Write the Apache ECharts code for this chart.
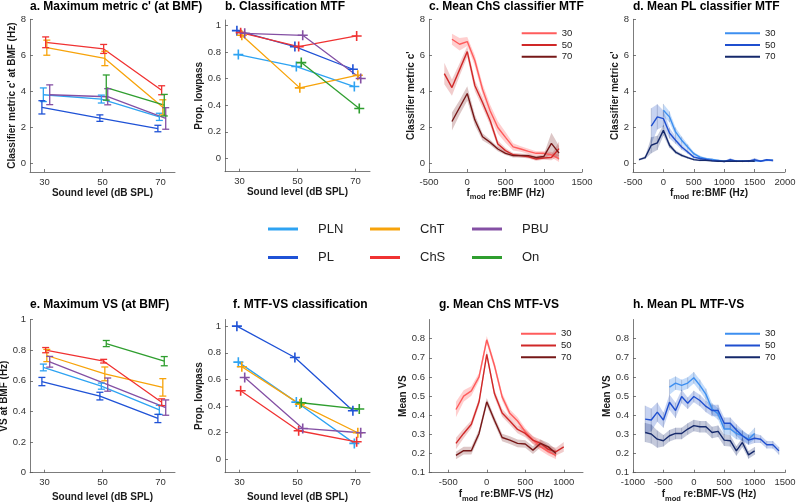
<!DOCTYPE html>
<html>
<head>
<meta charset="utf-8">
<script src="https://cdn.jsdelivr.net/npm/echarts@6/dist/echarts.min.js"></script>
<style>
html, body { margin: 0; padding: 0; background: #fff; }
#main { width: 796px; height: 504px; }
</style>
</head>
<body>
<div id="main"></div>
<script>
// groups and sound levels
var groups = ['PLN', 'PL', 'ChT', 'ChS', 'PBU', 'On'];
var levels = [30, 50, 70];
var xJitter = [-0.4, -0.9, 0.8, 0.4, 1.8, 1.3];   // x offset of each group (dB)

// a. max metric c' (order = groups)
var cmaxMean30 = [3.8, 3.1, 6.42, 6.72, 3.8, null];
var cmaxErr30  = [0.38, 0.37, 0.42, 0.3, 0.55, null];
var cmaxMean50 = [3.56, 2.5, 5.82, 6.35, 3.69, 4.2];
var cmaxErr50  = [0.22, 0.18, 0.4, 0.25, 0.45, 0.7];
var cmaxMean70 = [2.57, 1.92, 3.1, 4.05, 2.48, 3.22];
var cmaxErr70  = [0.2, 0.18, 0.42, 0.25, 0.6, 0.6];

// b. classification MTF, prop. lowpass
var mtfLow30 = [0.78, 0.96, 0.925, 0.945, 0.94, null];
var mtfLow50 = [0.69, 0.84, 0.53, 0.84, 0.925, 0.72];
var mtfLow70 = [0.54, 0.67, 0.625, 0.92, 0.6, 0.375];

// e. max VS
var vsMean30 = [0.687, 0.595, 0.765, 0.80, 0.724, null];
var vsErr30  = [0.022, 0.027, 0.04, 0.017, 0.035, null];
var vsMean50 = [0.565, 0.5, 0.645, 0.728, 0.575, 0.843];
var vsErr50  = [0.02, 0.025, 0.045, 0.012, 0.043, 0.02];
var vsMean70 = [0.41, 0.354, 0.557, 0.46, 0.425, 0.728];
var vsErr70  = [0.03, 0.027, 0.057, 0.022, 0.05, 0.03];

// f. MTF-VS classification, prop. lowpass
var vsLow30 = [0.73, 1.0, 0.695, 0.515, 0.615, null];
var vsLow50 = [0.43, 0.765, 0.415, 0.215, 0.232, 0.425];
var vsLow70 = [0.12, 0.365, 0.2, 0.132, 0.2, 0.378];

// c. mean ChS classifier MTF
var cFreq30 = [-200, -100, 0, 100, 200, 300, 400, 500, 600, 700, 800, 900, 1000, 1100, 1200];
var cMean30 = [6.89, 6.61, 6.76, 5.69, 4.1, 2.9, 1.98, 1.43, 0.9, 0.78, 0.65, 0.54, 0.54, 0.46, 0.25];
var cErr30  = [0.3, 0.35, 0.25, 0.3, 0.3, 0.35, 0.35, 0.3, 0.2, 0.15, 0.15, 0.12, 0.12, 0.15, 0.2];
var cFreq50 = [-300, -200, -100, 0, 100, 200, 300, 400, 500, 600, 700, 800, 900, 1000, 1100, 1200];
var cMean50 = [4.98, 4.2, 5.2, 6.2, 4.3, 3.37, 2.35, 1.06, 0.69, 0.46, 0.41, 0.35, 0.22, 0.28, 0.31, 0.8];
var cErr50  = [0.6, 0.45, 0.35, 0.3, 0.3, 0.3, 0.25, 0.2, 0.15, 0.1, 0.1, 0.1, 0.1, 0.1, 0.15, 0.4];
var cFreq70 = [-200, -100, 0, 100, 200, 300, 400, 500, 600, 700, 800, 900, 1000, 1100, 1200];
var cMean70 = [2.31, 3.09, 3.87, 2.39, 1.46, 1.15, 0.78, 0.54, 0.41, 0.41, 0.41, 0.31, 0.36, 1.09, 0.55];
var cErr70  = [0.5, 0.4, 0.4, 0.3, 0.2, 0.15, 0.12, 0.1, 0.1, 0.1, 0.1, 0.1, 0.12, 0.6, 0.4];

// d. mean PL classifier MTF
var dFreq30 = [0, 100, 200, 300, 400, 500, 600, 700, 800, 900, 1000, 1100, 1200, 1300, 1400, 1500, 1600, 1700, 1800];
var dMean30 = [2.94, 2.57, 1.73, 1.27, 0.89, 0.52, 0.33, 0.24, 0.2, 0.15, 0.1, 0.15, 0.12, 0.1, 0.1, 0.12, 0.12, 0.15, 0.15];
var dErr30  = [0.35, 0.3, 0.25, 0.2, 0.15, 0.1, 0.08, 0.06, 0.05, 0.05, 0.05, 0.05, 0.05, 0.05, 0.05, 0.05, 0.05, 0.05, 0.05];
var dFreq50 = [-200, -100, 0, 100, 200, 300, 400, 500, 600, 700, 800, 900, 1000, 1100, 1200, 1300, 1400, 1500, 1600, 1700, 1800];
var dMean50 = [2.05, 2.57, 2.47, 1.67, 1.27, 0.89, 0.61, 0.33, 0.25, 0.2, 0.15, 0.12, 0.08, 0.18, 0.1, 0.1, 0.1, 0.18, 0.1, 0.18, 0.14];
var dErr50  = [1.0, 0.7, 0.45, 0.3, 0.2, 0.15, 0.1, 0.08, 0.06, 0.05, 0.05, 0.05, 0.05, 0.08, 0.05, 0.05, 0.05, 0.1, 0.05, 0.05, 0.05];
var dFreq70 = [-400, -300, -200, -100, 0, 100, 200, 300, 400, 500, 600, 700, 800, 900, 1000, 1100, 1200, 1300, 1400, 1500];
var dMean70 = [0.19, 0.3, 0.99, 1.12, 1.82, 0.99, 0.61, 0.43, 0.3, 0.19, 0.15, 0.15, 0.12, 0.1, 0.1, 0.1, 0.1, 0.1, 0.12, 0.1];
var dErr70  = [0.05, 0.08, 0.45, 0.4, 0.3, 0.15, 0.1, 0.08, 0.06, 0.05, 0.05, 0.05, 0.05, 0.05, 0.05, 0.05, 0.05, 0.05, 0.05, 0.05];

// g. mean ChS MTF-VS
var gFreq30 = [-400, -300, -200, -100, 0, 100, 200, 300, 400, 500, 600, 700, 800, 900];
var gMean30 = [0.43, 0.50, 0.527, 0.6, 0.794, 0.66, 0.496, 0.41, 0.37, 0.314, 0.27, 0.235, 0.21, 0.19];
var gErr30  = [0.04, 0.03, 0.025, 0.02, 0.02, 0.02, 0.02, 0.02, 0.02, 0.02, 0.02, 0.02, 0.02, 0.02];
var gFreq50 = [-400, -300, -200, -100, 0, 100, 200, 300, 400, 500, 600, 700, 800, 900, 1000];
var gMean50 = [0.253, 0.305, 0.353, 0.47, 0.718, 0.513, 0.412, 0.37, 0.326, 0.305, 0.27, 0.253, 0.222, 0.21, 0.235];
var gErr50  = [0.03, 0.025, 0.02, 0.02, 0.02, 0.02, 0.02, 0.02, 0.02, 0.02, 0.02, 0.02, 0.02, 0.02, 0.025];
var gFreq70 = [-400, -300, -200, -100, 0, 100, 200, 300, 400, 500, 600, 700, 800, 900];
var gMean70 = [0.19, 0.215, 0.215, 0.305, 0.47, 0.374, 0.284, 0.27, 0.253, 0.25, 0.218, 0.253, 0.235, 0.2];
var gErr70  = [0.02, 0.02, 0.02, 0.02, 0.02, 0.02, 0.02, 0.02, 0.02, 0.02, 0.02, 0.02, 0.02, 0.02];

// h. mean PL MTF-VS
var hFreq30 = [-400, -300, -200, -100, 0, 100, 200, 300, 400, 500, 600, 700, 800, 900, 1000];
var hMean30 = [0.547, 0.568, 0.556, 0.568, 0.596, 0.556, 0.509, 0.433, 0.407, 0.328, 0.328, 0.305, 0.293, 0.275, 0.305];
var hErr30  = [0.04, 0.035, 0.03, 0.03, 0.03, 0.03, 0.03, 0.03, 0.03, 0.03, 0.03, 0.03, 0.025, 0.025, 0.03];
var hFreq50 = [-800, -700, -600, -500, -400, -300, -200, -100, 0, 100, 200, 300, 400, 500, 600, 700, 800, 900, 1000, 1100, 1200, 1300, 1400];
var hMean50 = [0.38, 0.375, 0.416, 0.375, 0.468, 0.425, 0.498, 0.463, 0.498, 0.477, 0.446, 0.425, 0.425, 0.358, 0.358, 0.323, 0.293, 0.27, 0.28, 0.275, 0.246, 0.246, 0.214];
var hErr50  = [0.07, 0.06, 0.05, 0.04, 0.04, 0.04, 0.035, 0.03, 0.03, 0.03, 0.03, 0.03, 0.03, 0.03, 0.03, 0.03, 0.03, 0.025, 0.025, 0.02, 0.02, 0.02, 0.02];
var hFreq70 = [-800, -700, -600, -500, -400, -300, -200, -100, 0, 100, 200, 300, 400, 500, 600, 700, 800, 900, 1000];
var hMean70 = [0.31, 0.302, 0.275, 0.267, 0.293, 0.305, 0.305, 0.328, 0.346, 0.34, 0.34, 0.31, 0.316, 0.27, 0.267, 0.214, 0.258, 0.193, 0.214];
var hErr70  = [0.05, 0.05, 0.045, 0.03, 0.03, 0.03, 0.03, 0.03, 0.03, 0.03, 0.03, 0.03, 0.03, 0.03, 0.03, 0.025, 0.025, 0.02, 0.02];

// tick labels
var levelTicks = [30, 50, 70];
var cTicks = [0, 2, 4, 6, 8];
var propTicks = [0, 0.2, 0.4, 0.6, 0.8, 1];
var cFreqTicks = [-500, 0, 500, 1000, 1500];
var dFreqTicks = [-500, 0, 500, 1000, 1500, 2000];
var gFreqTicks = [-500, 0, 500, 1000];
var hFreqTicks = [-1000, -500, 0, 500, 1000, 1500];
var meanVsTicks = [0.1, 0.2, 0.3, 0.4, 0.5, 0.6, 0.7, 0.8];

var groupColors = ['#2ea3f2', '#1f52d6', '#f7a30a', '#f03232', '#8450a4', '#2f9e2f'];
var redLines = ['#ff5c5c', '#d02828', '#761818'];
var redBands = ['rgba(255,95,95,0.30)', 'rgba(200,50,50,0.25)', 'rgba(120,30,30,0.25)'];
var blueLines = ['#3d8ff0', '#1f4fcf', '#15296b'];
var blueBands = ['rgba(60,140,240,0.30)', 'rgba(30,80,200,0.25)', 'rgba(20,40,110,0.25)'];

var font = 'Liberation Sans, Arial, sans-serif';
var axisGrey = '#5a5a5a';

var grids = [
    { left: 30,  top: 19.3, width: 145, height: 152.7 },
    { left: 225, top: 20,   width: 145, height: 151.7 },
    { left: 429, top: 19.3, width: 153, height: 152.7 },
    { left: 633, top: 19.3, width: 152, height: 152.7 },
    { left: 30,  top: 319.5, width: 145, height: 153.2 },
    { left: 225, top: 319.5, width: 145, height: 153.2 },
    { left: 429, top: 319.5, width: 154, height: 153.2 },
    { left: 633, top: 319.5, width: 152, height: 153.2 }
];
grids.forEach(function (g) { g.outerBoundsMode = 'none'; g.containLabel = false; });

var nameRich = {
    t: { fontFamily: font, fontSize: 10, fontWeight: 'bold', color: '#1a1a1a', padding: [0, 0, 4, 0] },
    s: { fontFamily: font, fontSize: 7.5, fontWeight: 'bold', color: '#1a1a1a', padding: [4, 0, 0, 0] }
};

function mkAxis(idx, min, max, ticks, name, gap, isY) {
    return {
        type: 'value', gridIndex: idx, min: min, max: max,
        name: name, nameLocation: 'middle', nameGap: gap,
        nameTextStyle: { fontFamily: font, fontSize: 10, fontWeight: 'bold', color: '#1a1a1a', rich: nameRich },
        axisLine: { onZero: false, lineStyle: { color: axisGrey, width: 0.8 } },
        axisTick: { inside: true, length: 3, customValues: ticks, lineStyle: { color: axisGrey, width: 0.8 } },
        axisLabel: {
            customValues: ticks, fontFamily: font, fontSize: 9.5, color: '#333', margin: isY ? 4 : 5,
            formatter: function (v) { return String(v); }
        },
        splitLine: { show: false }
    };
}

var soundName = 'Sound level (dB SPL)';
var bmfName = '{t|f}{s|mod}{t| re:BMF (Hz)}';
var bmfVsName = '{t|f}{s|mod}{t| re:BMF-VS (Hz)}';

var xAxes = [
    mkAxis(0, 25, 75, levelTicks, soundName, 14, false),
    mkAxis(1, 25, 75, levelTicks, soundName, 14, false),
    mkAxis(2, -500, 1500, cFreqTicks, bmfName, 13, false),
    mkAxis(3, -500, 2000, dFreqTicks, bmfName, 13, false),
    mkAxis(4, 25, 75, levelTicks, soundName, 20, false),
    mkAxis(5, 25, 75, levelTicks, soundName, 20, false),
    mkAxis(6, -750, 1250, gFreqTicks, bmfVsName, 17, false),
    mkAxis(7, -1000, 1500, hFreqTicks, bmfVsName, 17, false)
];
var yAxes = [
    mkAxis(0, -0.5, 8, cTicks, "Classifier metric c' at BMF (Hz)", 13, true),
    mkAxis(1, -0.1, 1.04, propTicks, 'Prop. lowpass', 20, true),
    mkAxis(2, -0.5, 8, cTicks, "Classifier metric c'", 12, true),
    mkAxis(3, -0.5, 8, cTicks, "Classifier metric c'", 12, true),
    mkAxis(4, 0, 1, propTicks, 'VS at BMF (Hz)', 20, true),
    mkAxis(5, -0.1, 1.05, propTicks, 'Prop. lowpass', 20, true),
    mkAxis(6, 0.1, 0.9, meanVsTicks, 'Mean VS', 20, true),
    mkAxis(7, 0.1, 0.9, meanVsTicks, 'Mean VS', 20, true)
];

var series = [];

function errorBars(idx, pts, color) {
    return {
        type: 'custom', xAxisIndex: idx, yAxisIndex: idx, silent: true, z: 3,
        data: pts,
        renderItem: function (params, api) {
            var x = api.value(0), m = api.value(1), e = api.value(2);
            var lo = api.coord([x, m - e]), hi = api.coord([x, m + e]);
            var w = 3.5;
            var st = { stroke: color, lineWidth: 1.3 };
            return {
                type: 'group', children: [
                    { type: 'line', shape: { x1: lo[0], y1: lo[1], x2: hi[0], y2: hi[1] }, style: st },
                    { type: 'line', shape: { x1: lo[0] - w, y1: lo[1], x2: lo[0] + w, y2: lo[1] }, style: st },
                    { type: 'line', shape: { x1: hi[0] - w, y1: hi[1], x2: hi[0] + w, y2: hi[1] }, style: st }
                ]
            };
        }
    };
}

// panels a, e: mean +- error across levels
function levelPanel(idx, means, errs) {
    groups.forEach(function (g, k) {
        var pts = [];
        levels.forEach(function (lv, j) {
            if (means[j][k] !== null) pts.push([lv + xJitter[k], means[j][k], errs[j][k]]);
        });
        series.push({
            type: 'line', name: g, xAxisIndex: idx, yAxisIndex: idx, z: 2,
            data: pts.map(function (p) { return [p[0], p[1]]; }),
            symbol: 'none', lineStyle: { color: groupColors[k], width: 1.3 }, itemStyle: { color: groupColors[k] }
        });
        series.push(errorBars(idx, pts, groupColors[k]));
    });
}

var plusPath = 'path://M4.2,0H5.8V4.2H10V5.8H5.8V10H4.2V5.8H0V4.2H4.2Z';

// panels b, f: proportion lowpass with + markers
function propPanel(idx, vals) {
    groups.forEach(function (g, k) {
        var pts = [];
        levels.forEach(function (lv, j) {
            if (vals[j][k] !== null) pts.push([lv + xJitter[k], vals[j][k]]);
        });
        series.push({
            type: 'line', name: g, xAxisIndex: idx, yAxisIndex: idx,
            data: pts, symbol: plusPath, symbolSize: 10, showSymbol: true,
            lineStyle: { color: groupColors[k], width: 1.3 }, itemStyle: { color: groupColors[k] }
        });
    });
}

// shaded mean +- error band
function band(idx, xs, ys, es, fill, tickColor) {
    var data = xs.map(function (x, i) { return [x, ys[i] - es[i], ys[i] + es[i]]; });
    return {
        type: 'custom', xAxisIndex: idx, yAxisIndex: idx, silent: true, clip: true, z: 1,
        data: data,
        renderItem: function (params, api) {
            if (params.dataIndex !== 0) return;
            var top = [], bot = [], kids = [];
            data.forEach(function (d) {
                var a = api.coord([d[0], d[2]]), b = api.coord([d[0], d[1]]);
                top.push(a);
                bot.unshift(b);
                if (tickColor) {
                    kids.push({ type: 'line', shape: { x1: a[0], y1: a[1], x2: b[0], y2: b[1] }, style: { stroke: tickColor, lineWidth: 0.6 } });
                }
            });
            kids.unshift({ type: 'polygon', shape: { points: top.concat(bot) }, style: { fill: fill } });
            return { type: 'group', children: kids };
        }
    };
}

function curvePanel(idx, prefix, sets, lineCols, bandCols, ticks) {
    sets.forEach(function (s, j) {
        series.push(band(idx, s[0], s[1], s[2], bandCols[j], ticks ? 'rgba(40,60,110,0.35)' : null));
    });
    sets.forEach(function (s, j) {
        series.push({
            type: 'line', name: prefix + levels[j], xAxisIndex: idx, yAxisIndex: idx, z: 2,
            data: s[0].map(function (x, i) { return [x, s[1][i]]; }),
            symbol: 'none', lineStyle: { color: lineCols[j], width: 1.4 }, itemStyle: { color: lineCols[j] }
        });
    });
}

levelPanel(0, [cmaxMean30, cmaxMean50, cmaxMean70], [cmaxErr30, cmaxErr50, cmaxErr70]);
propPanel(1, [mtfLow30, mtfLow50, mtfLow70]);
curvePanel(2, 'c', [[cFreq30, cMean30, cErr30], [cFreq50, cMean50, cErr50], [cFreq70, cMean70, cErr70]], redLines, redBands, false);
curvePanel(3, 'd', [[dFreq30, dMean30, dErr30], [dFreq50, dMean50, dErr50], [dFreq70, dMean70, dErr70]], blueLines, blueBands, true);
levelPanel(4, [vsMean30, vsMean50, vsMean70], [vsErr30, vsErr50, vsErr70]);
propPanel(5, [vsLow30, vsLow50, vsLow70]);
curvePanel(6, 'g', [[gFreq30, gMean30, gErr30], [gFreq50, gMean50, gErr50], [gFreq70, gMean70, gErr70]], redLines, redBands, false);
curvePanel(7, 'h', [[hFreq30, hMean30, hErr30], [hFreq50, hMean50, hErr50], [hFreq70, hMean70, hErr70]], blueLines, blueBands, true);

function titleAt(text, left, top) {
    return { text: text, left: left, top: top, padding: 0,
             textStyle: { fontFamily: font, fontSize: 12, fontWeight: 'bold', color: '#000' } };
}

function groupLegend(name, left, top) {
    return {
        data: [name], left: left, top: top, padding: 0, selectedMode: false,
        icon: 'rect', itemWidth: 30, itemHeight: 3,
        textStyle: { fontFamily: font, fontSize: 13, color: '#222', padding: [0, 0, 0, 15] }
    };
}

function levelLegend(prefix, left, top) {
    return {
        data: [prefix + '30', prefix + '50', prefix + '70'], left: left, top: top,
        orient: 'vertical', padding: 0, itemGap: 0, selectedMode: false,
        icon: 'rect', itemWidth: 35, itemHeight: 2,
        formatter: function (n) { return n.slice(1); },
        textStyle: { fontFamily: font, fontSize: 9.5, color: '#222', lineHeight: 11.7 }
    };
}

var chart = echarts.init(document.getElementById('main'));
chart.setOption({
    animation: false,
    backgroundColor: '#fff',
    title: [
        titleAt("a. Maximum metric c' (at BMF)", 30, 1),
        titleAt('b. Classification MTF', 225, 1),
        titleAt('c. Mean ChS classifier MTF', 429, 1),
        titleAt('d. Mean PL classifier MTF', 633, 1),
        titleAt('e. Maximum VS (at BMF)', 30, 299),
        titleAt('f. MTF-VS classification', 233, 299),
        titleAt('g. Mean ChS MTF-VS', 439, 299),
        titleAt('h. Mean PL MTF-VS', 633, 299)
    ],
    legend: [
        groupLegend('PLN', 268, 222.5),
        groupLegend('ChT', 370, 222.5),
        groupLegend('PBU', 472, 222.5),
        groupLegend('PL', 268, 251),
        groupLegend('ChS', 370, 251),
        groupLegend('On', 472, 251),
        levelLegend('c', 521.7, 27.5),
        levelLegend('d', 725, 27.5),
        levelLegend('g', 521, 328),
        levelLegend('h', 725, 328)
    ],
    grid: grids,
    xAxis: xAxes,
    yAxis: yAxes,
    series: series
});
</script>
</body>
</html>
